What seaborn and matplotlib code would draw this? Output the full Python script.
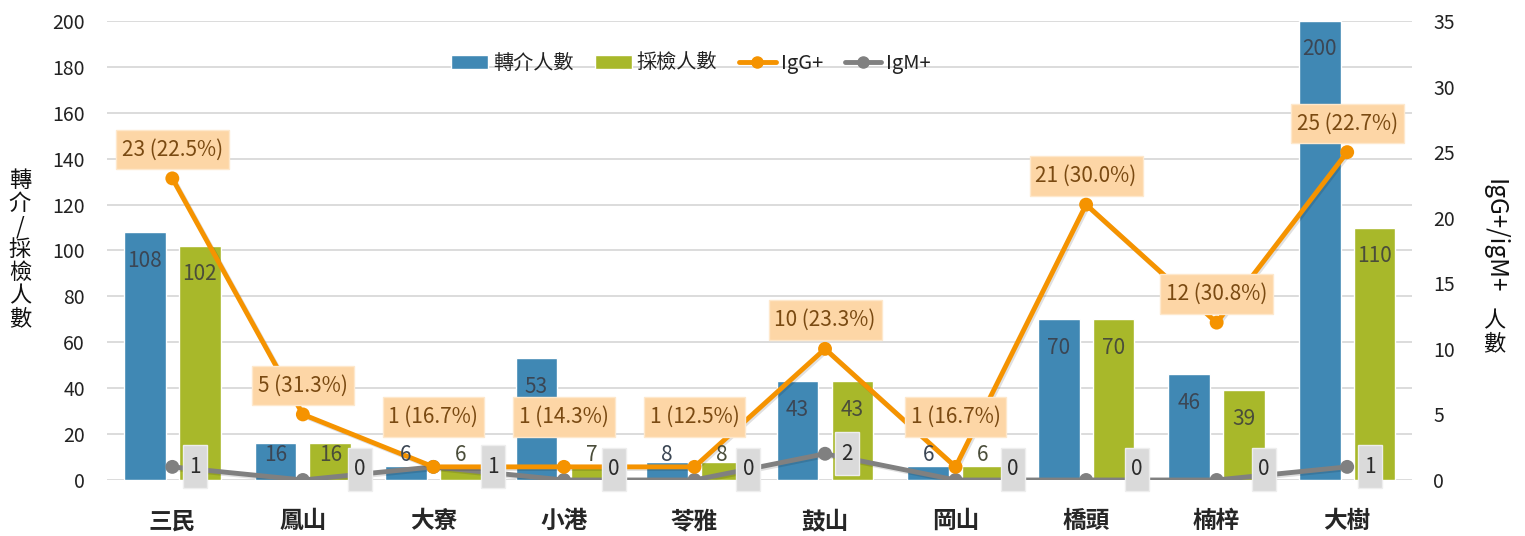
import numpy as np
import pandas as pd
import matplotlib
matplotlib.use("Agg")
import matplotlib.pyplot as plt
import matplotlib.patheffects as pe
from matplotlib.lines import Line2D
from matplotlib.patches import Patch
from matplotlib.path import Path
import seaborn as sns

# — 資料 —
districts = ["三民", "鳳山", "大寮", "小港", "苓雅", "鼓山", "岡山", "橋頭", "楠梓", "大樹"]
referred = [108, 16, 6, 53, 8, 43, 6, 70, 46, 200]
tested = [102, 16, 6, 7, 8, 43, 6, 70, 39, 110]
igg_pos = [23, 5, 1, 1, 1, 10, 1, 21, 12, 25]
igg_pct = [22.5, 31.3, 16.7, 14.3, 12.5, 23.3, 16.7, 30.0, 30.8, 22.7]
igm_pos = [1, 0, 1, 0, 0, 2, 0, 0, 0, 1]
series_names = ["轉介人數", "採檢人數"]

# IgM+ 標籤向右偏移（像素）
igm_label_dx = [23, 57, 60, 50, 54, 22, 57, 51, 47, 23]

C_BLUE = "#4088b4"
C_GREEN = "#a8b82a"
C_ORANGE = "#f59300"
C_GRAY = "#808080"

sns.set_style("white")
plt.rcParams['font.family'] = ['Noto Sans CJK TC', 'DejaVu Sans']


def make_box(px, py):
    # 方框，水平與垂直留白不同
    def box(x0, y0, width, height, mutation_size):
        dx, dy = px * mutation_size, py * mutation_size
        x0, y0 = x0 - dx, y0 - dy
        x1, y1 = x0 + width + 2 * dx, y0 + height + 2 * dy
        return Path([(x0, y0), (x1, y0), (x1, y1), (x0, y1), (x0, y0)], closed=True)
    return box


df = pd.DataFrame({
    "區": districts * 2,
    "類別": [series_names[0]] * len(districts) + [series_names[1]] * len(districts),
    "人數": referred + tested,
})

fig = plt.figure(figsize=(15.25, 5.36), dpi=100)
ax = fig.add_axes([0.0702, 0.1045, 0.856, 0.8563])

sns.barplot(data=df, x="區", y="人數", hue="類別", palette=[C_BLUE, C_GREEN],
            width=0.84, gap=0.24, saturation=1, ax=ax, legend=False, zorder=2)
ax.set_ylim(0, 200)
ax.set_xlim(-0.5, len(districts) - 0.5)
ax.set_yticks(range(0, 201, 20))
ax.yaxis.grid(True, color="#d9d9d9", linewidth=1.3, zorder=0)
ax.set_axisbelow(True)
for s in ax.spines.values():
    s.set_visible(False)
ax.tick_params(axis="both", length=0)
ax.tick_params(axis="y", labelsize=14, labelcolor="#222222", pad=16)
ax.tick_params(axis="x", labelsize=17, pad=21)
for t in ax.get_xticklabels():
    t.set_fontweight("bold")
ax.set_xlabel("")
ax.set_ylabel("")

# 左軸標題（直排）
fig.text(0.013, 0.534, "\n".join("轉介/採檢人數"), ha="center", va="center",
         fontsize=16, linespacing=1.0, color="#111111")

# — 右軸：IgG+ / IgM+ —
ax2 = ax.twinx()
xs = np.arange(len(districts))
shadow = [pe.SimpleLineShadow(offset=(1.2, -1.2), alpha=0.12), pe.Normal()]
sns.lineplot(x=xs, y=igm_pos, ax=ax2, color=C_GRAY, linewidth=3.5, marker="o",
             markersize=10, markeredgewidth=0, path_effects=shadow, zorder=3)
sns.lineplot(x=xs, y=igg_pos, ax=ax2, color=C_ORANGE, linewidth=3.5, marker="o",
             markersize=10, markeredgewidth=0, path_effects=shadow, zorder=4)
ax2.set_ylim(0, 35)
ax2.set_yticks(range(0, 36, 5))
ax2.set_xlim(-0.5, len(districts) - 0.5)
for s in ax2.spines.values():
    s.set_visible(False)
ax2.tick_params(axis="y", length=0, labelsize=14, labelcolor="#222222", pad=15)
ax2.set_ylabel("")

# 長條數值標籤（畫在最上層）
for cont, vals, col in zip(ax.containers, [referred, tested], ["#3b4654", "#4a4d3a"]):
    for bar, v in zip(cont, vals):
        xc = bar.get_x() + bar.get_width() / 2
        yl = max(v - 12.4, 11)
        ax2.text(xc, yl, str(v), transform=ax.transData, ha="center", va="center",
                 fontsize=15, color=col, zorder=5)

# IgG+ 標籤
for x, g, p in zip(xs, igg_pos, igg_pct):
    ax2.text(x, max(g + 2.2, 4.8), f"{g} ({p:.1f}%)", ha="center", va="center",
             fontsize=15, color="#7a4a12", zorder=6,
             bbox=dict(boxstyle=make_box(0.28, 0.42), facecolor="#fdd6a6",
                       edgecolor="#fee8cc", linewidth=1))

# IgM+ 標籤
for x, m, dx in zip(xs, igm_pos, igm_label_dx):
    ax2.annotate(str(m), xy=(x, max(m, 0.8)), xytext=(dx, 0),
                 textcoords="offset pixels",
                 ha="center", va="center", fontsize=15, color="#2b2b2b", zorder=6,
                 bbox=dict(boxstyle=make_box(0.3, 0.5), facecolor="#dadada",
                           edgecolor="#eeeeee", linewidth=1))

# 右軸標題（直排：拉丁字旋轉，中文直立）
fig.text(0.980, 0.56, "IgG+/igM+", rotation=-90, ha="center", va="center",
         fontsize=17.5, color="#111111")
fig.text(0.980, 0.38, "人\n數", ha="center", va="center",
         fontsize=16, linespacing=1.0, color="#111111")

# 圖例
handles = [
    Patch(facecolor=C_BLUE, label=series_names[0]),
    Patch(facecolor=C_GREEN, label=series_names[1]),
    Line2D([0], [0], color=C_ORANGE, linewidth=3.5, marker="o", markersize=8, label="IgG+"),
    Line2D([0], [0], color=C_GRAY, linewidth=3.5, marker="o", markersize=8, label="IgM+"),
]
leg = ax2.legend(handles=handles, loc="center", bbox_to_anchor=(0.4475, 0.908), ncol=4,
                 frameon=False, fontsize=14.5, handlelength=1.8, handleheight=0.7,
                 handletextpad=0.25, columnspacing=1.1)
for t in leg.get_texts():
    t.set_color("#222222")

fig.savefig("out.png", dpi=100, facecolor="white")
